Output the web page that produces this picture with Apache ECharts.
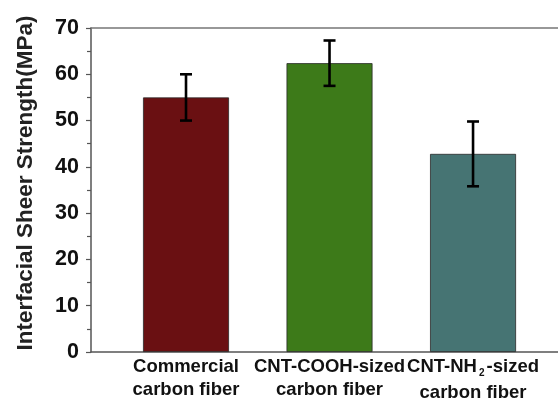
<!DOCTYPE html>
<html><head><meta charset="utf-8">
<script src="https://cdn.jsdelivr.net/npm/echarts@6/dist/echarts.min.js"></script>
<style>html,body{margin:0;padding:0;background:#fff}#c{width:558px;height:402px}</style>
</head><body><div id="c"></div>
<script>
var categories = ['Commercial\ncarbon fiber', 'CNT-COOH-sized\ncarbon fiber', 'CNT-NH{sub|2}-sized\n{low|carbon fiber}'];
var positions = [1, 2, 3];
var means = [55.0, 62.4, 42.8];
var errors = [5.0, 4.9, 7.0];
var yTicks = [0, 10, 20, 30, 40, 50, 60, 70];
var barColors = ['#6a1012', '#3d7a19', '#467473'];

var FONT = 'Arial, "Liberation Sans", sans-serif';
var chart = echarts.init(document.getElementById('c'));
var barData = positions.map(function (p, i) { return [p, means[i]]; });
var errData = positions.map(function (p, i) { return [p, means[i] - errors[i], means[i] + errors[i]]; });

chart.setOption({
  animation: false,
  backgroundColor: '#ffffff',
  grid: { left: 91, right: 0, top: 28, bottom: 49, containLabel: false },
  xAxis: [{
    type: 'value', min: 0.338, max: 3.592, position: 'bottom',
    splitLine: { show: false },
    axisLine: { show: true, lineStyle: { color: '#555', width: 1.5 } },
    axisTick: { show: false },
    axisLabel: {
      customValues: positions,
      hideOverlap: false,
      formatter: function (v) { return categories[positions.indexOf(v)] || ''; },
      color: '#111', fontFamily: FONT, fontWeight: 'bold', fontSize: 18.5,
      lineHeight: 23, margin: 3,
      rich: {
        sub: { fontSize: 10, fontWeight: 'bold', fontFamily: FONT, color: '#111', verticalAlign: 'bottom', padding: [12, 2, 0, 2] },
        low: { fontSize: 18.5, fontWeight: 'bold', fontFamily: FONT, color: '#111', lineHeight: 23, padding: [6, 0, 0, 0] }
      }
    }
  }, {
    type: 'value', min: 0.338, max: 3.592, position: 'top',
    splitLine: { show: false },
    axisLine: { show: true, onZero: false, lineStyle: { color: '#777', width: 1.5 } },
    axisTick: { show: false }, axisLabel: { show: false }
  }],
  yAxis: {
    type: 'value', min: 0, max: 70, interval: 10,
    name: 'Interfacial Sheer Strength(MPa)', nameLocation: 'middle', nameGap: 54,
    nameTextStyle: { fontFamily: FONT, fontWeight: 'bold', fontSize: 22.5, color: '#222', padding: [0, 0, 0, 14] },
    splitLine: { show: false },
    axisLine: { show: true, lineStyle: { color: '#555', width: 1.5 } },
    axisTick: { show: true, inside: false, length: 5, lineStyle: { color: '#555', width: 1.2 } },
    minorTick: { show: true, splitNumber: 2, length: 4, lineStyle: { color: '#555', width: 1.2 } },
    axisLabel: {
      customValues: yTicks,
      color: '#111', fontFamily: FONT, fontWeight: 'bold', fontSize: 21.5, margin: 12
    }
  },
  series: [{
    type: 'bar', xAxisIndex: 0, barWidth: 86,
    data: barData,
    itemStyle: {
      color: function (p) { return barColors[p.dataIndex]; },
      borderColor: '#2a2a2a', borderWidth: 0.8
    }
  }, {
    type: 'custom', xAxisIndex: 0,
    data: errData,
    renderItem: function (params, api) {
      var x = api.value(0);
      var lo = api.coord([x, api.value(1)]);
      var hi = api.coord([x, api.value(2)]);
      var cw = 6;
      var st = { stroke: '#000', lineWidth: 2.6 };
      return { type: 'group', children: [
        { type: 'line', shape: { x1: lo[0], y1: lo[1], x2: hi[0], y2: hi[1] }, style: st },
        { type: 'line', shape: { x1: hi[0] - cw, y1: hi[1], x2: hi[0] + cw, y2: hi[1] }, style: st },
        { type: 'line', shape: { x1: lo[0] - cw, y1: lo[1], x2: lo[0] + cw, y2: lo[1] }, style: st }
      ] };
    },
    z: 10
  }]
});
</script></body></html>
